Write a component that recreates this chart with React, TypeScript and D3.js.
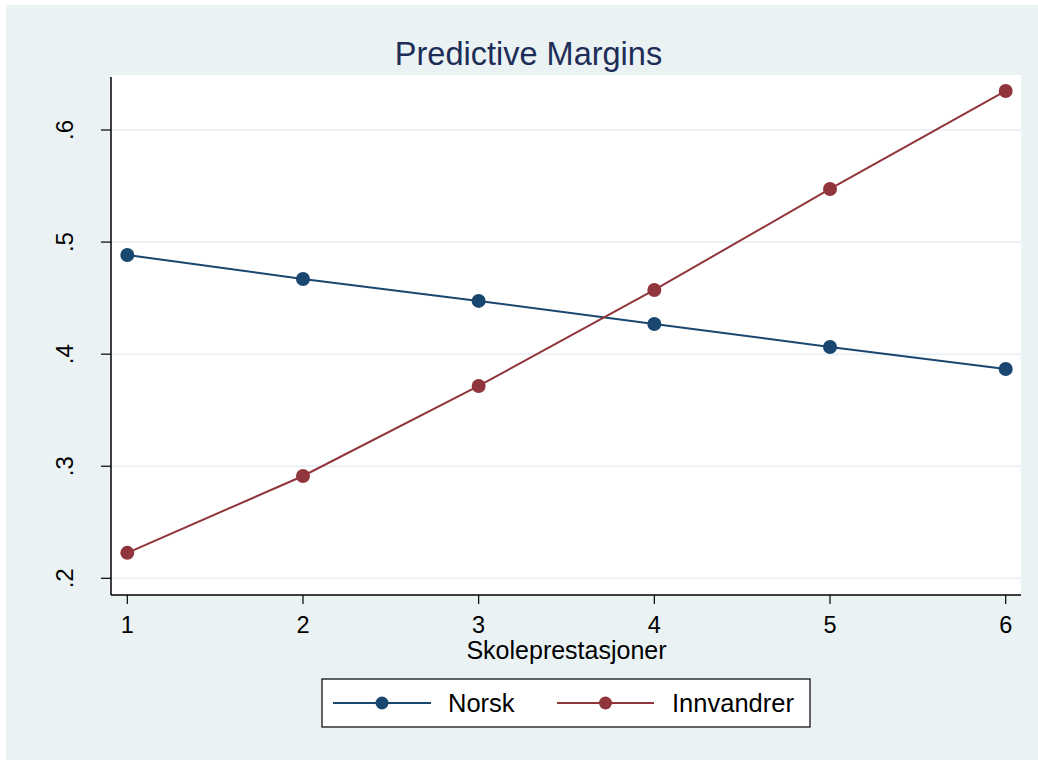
import * as d3 from "d3";

const categories = [1, 2, 3, 4, 5, 6];
const norsk = [0.4885, 0.4671, 0.4475, 0.4269, 0.4064, 0.3868];
const innvandrer = [0.2227, 0.2913, 0.3716, 0.4573, 0.5474, 0.6348];
const yTicks = [0.2, 0.3, 0.4, 0.5, 0.6];
const yTickLabels = [".2", ".3", ".4", ".5", ".6"];

const series = [
  { name: "Norsk", values: norsk, color: "#1a476f" },
  { name: "Innvandrer", values: innvandrer, color: "#90353b" },
];

export default function App() {
  const width = 1038,
    height = 760;
  const left = 111,
    right = 1021,
    top = 75,
    bottom = 595;
  const font = "'Liberation Sans', Arial, sans-serif";

  // x: 1 -> 127.3, 6 -> 1005.7
  const xScale = d3.scaleLinear().domain([1, 6]).range([127.3, 1005.7]);
  // y: .2 -> 578.3, .6 -> 130
  const yScale = d3.scaleLinear().domain([0.2, 0.6]).range([578.3, 130]);

  const line = d3
    .line<number>()
    .x((d, i) => xScale(categories[i]))
    .y((d) => yScale(d));

  const legendY = 703;
  const legendItems = [
    { x1: 333, x2: 431, text: 448 },
    { x1: 557, x2: 654, text: 672 },
  ];

  return (
    <svg
      width={width}
      height={height}
      style={{ position: "absolute", left: 0, top: 0, fontFamily: font }}
    >
      <rect x={0} y={0} width={width} height={height} fill="#ffffff" />
      <rect x={6} y={5} width={width - 6} height={height - 5} fill="#eaf2f3" />
      <text
        x={528.5}
        y={65}
        textAnchor="middle"
        fontSize={32.5}
        fill="#1e2d58"
      >
        Predictive Margins
      </text>

      {/* plot region */}
      <rect x={left} y={top} width={right - left} height={bottom - top} fill="#ffffff" />
      {yTicks.map((t) => (
        <line
          key={t}
          x1={left}
          x2={right}
          y1={yScale(t)}
          y2={yScale(t)}
          stroke="#eaf2f3"
          strokeWidth={2}
        />
      ))}

      {/* y axis */}
      <line x1={left} x2={left} y1={77} y2={bottom} stroke="#000" strokeWidth={1.5} />
      {yTicks.map((t, i) => (
        <g key={t}>
          <line x1={left - 10} x2={left} y1={yScale(t)} y2={yScale(t)} stroke="#000" strokeWidth={1.2} />
          <text
            transform={`translate(${73} ${yScale(t)}) rotate(-90)`}
            textAnchor="middle"
            fontSize={24}
            fill="#000"
          >
            {yTickLabels[i]}
          </text>
        </g>
      ))}

      {/* x axis */}
      <line x1={left} x2={right} y1={bottom} y2={bottom} stroke="#000" strokeWidth={1.5} />
      {categories.map((c) => (
        <g key={c}>
          <line x1={xScale(c)} x2={xScale(c)} y1={bottom} y2={bottom + 9} stroke="#000" strokeWidth={1.2} />
          <text x={xScale(c)} y={633} textAnchor="middle" fontSize={23.5} fill="#000">
            {c}
          </text>
        </g>
      ))}
      <text x={566.5} y={659} textAnchor="middle" fontSize={25} fill="#000">
        Skoleprestasjoner
      </text>

      {/* series */}
      {series.map((s) => (
        <g key={s.name}>
          <path d={line(s.values) ?? ""} fill="none" stroke={s.color} strokeWidth={2} />
          {s.values.map((v, i) => (
            <circle key={i} cx={xScale(categories[i])} cy={yScale(v)} r={7} fill={s.color} />
          ))}
        </g>
      ))}

      {/* legend */}
      <rect x={322} y={679} width={488} height={48} fill="#ffffff" stroke="#000" strokeWidth={1.2} />
      {series.map((s, i) => {
        const it = legendItems[i];
        return (
          <g key={s.name}>
            <line x1={it.x1} x2={it.x2} y1={legendY} y2={legendY} stroke={s.color} strokeWidth={2} />
            <circle cx={(it.x1 + it.x2) / 2} cy={legendY} r={6.5} fill={s.color} />
            <text x={it.text} y={legendY + 9} fontSize={25.5} fill="#000">
              {s.name}
            </text>
          </g>
        );
      })}
    </svg>
  );
}
